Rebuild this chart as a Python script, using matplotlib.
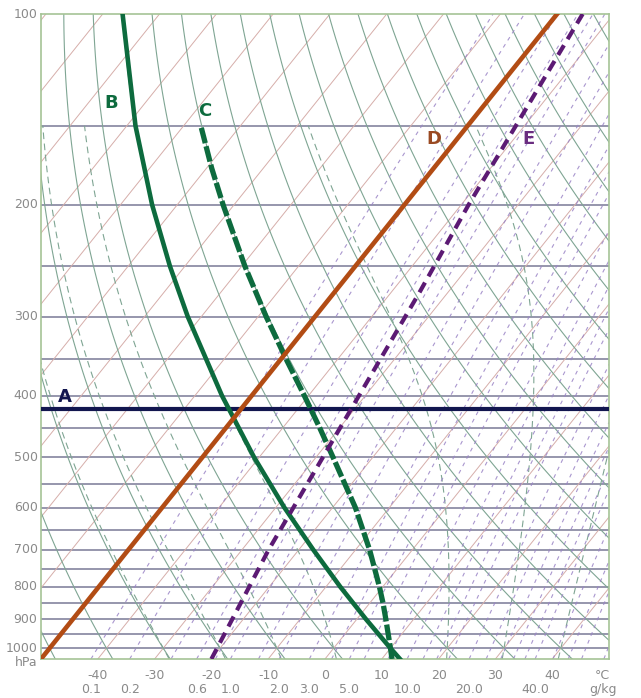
import numpy as np
import matplotlib.pyplot as plt
from matplotlib import transforms

# -----------------------------
# Diagram frame (skew-T / log-p)
# -----------------------------
P_BOTTOM = 1040.0
P_TOP = 100.0
SKEW = 38.8  # degC shift per unit of ln(p)

# background grid values
isobars = [150, 200, 250, 300, 350, 400, 450, 500, 550, 600,
           650, 700, 750, 800, 850, 900, 950, 1000]
isotherms = list(range(-150, 60, 10))
dry_adiabats_c = list(range(-50, 190, 10))          # degC at 1000 hPa
moist_adiabats_c = [-30, -20, -10, 0, 20, 30, 40]   # wet-bulb potential temp
mixing_ratios = [0.1, 0.2, 0.4, 0.6, 0.8, 1.0, 1.5, 2.0, 3.0, 4.0, 5.0, 6.0,
                 8.0, 10.0, 12.0, 14.0, 16.0, 20.0, 24.0, 28.0, 32.0, 36.0,
                 40.0, 48.0, 56.0, 64.0, 80.0]

# axis labels
pressure_labels = [100, 200, 300, 400, 500, 600, 700, 800, 900, 1000]
temp_labels = [-40, -30, -20, -10, 0, 10, 20, 30, 40]
mix_labels = [0.1, 0.2, 0.6, 1.0, 2.0, 3.0, 5.0, 10.0, 20.0, 40.0]

# highlighted lines A..E
a_pressure = 420
b_pressure = [1040, 1000, 900, 800, 700, 600, 500, 400, 300, 250, 200, 150, 100]
b_temp = [13.2, 10.0, 1.6, -7.5, -17.4, -28.5, -40.9, -55.2, -72.4, -82.6, -94.4, -108.5, -126.5]
c_pressure = [1040, 1000, 900, 850, 800, 700, 600, 500, 450, 400, 350, 300, 250, 200, 175, 150]
c_temp = [11.8, 10.0, 5.1, 2.4, -0.6, -7.5, -16.0, -27.0, -33.4, -40.7, -49.1, -58.6, -69.4, -81.9, -89.1, -97.0]
d_pressure = [1040, 100]
d_temp = [-50.0, -50.0]
e_pressure = [1040, 700, 420, 275, 200, 100]
e_temp = [-20.0, -25.3, -30.6, -35.0, -38.7, -45.5]


def skew_x(temp, pres):
    """Temperature -> horizontal position on the skewed axis."""
    return np.asarray(temp) + SKEW * np.log(P_BOTTOM / np.asarray(pres, dtype=float))


def moist_rate(t, p):
    es = 6.112 * np.exp(17.67 * (t - 273.15) / (t - 29.65))
    rs = 0.622 * es / (p - es)
    return (287.0 * t + 2.5e6 * rs) / (1004.0 + 2.5e6 ** 2 * rs * 0.622 / (287.0 * t ** 2))


def pseudo_adiabat(tw, p_end, n=200):
    lnp = np.linspace(np.log(1000.0), np.log(p_end), n)
    t = [tw + 273.15]
    for i in range(n - 1):
        h = lnp[i + 1] - lnp[i]
        k1 = moist_rate(t[-1], np.exp(lnp[i]))
        k2 = moist_rate(t[-1] + h * k1, np.exp(lnp[i + 1]))
        t.append(t[-1] + 0.5 * h * (k1 + k2))
    return np.exp(lnp), np.array(t) - 273.15


def mixing_temp(w, p):
    e = w * p / (622.0 + w)
    a = np.log(e / 6.112)
    return 243.5 * a / (17.67 - a)


fig = plt.figure(figsize=(6.41, 6.98), dpi=100)
ax = fig.add_axes([41 / 641, 1 - 659 / 698, 568 / 641, 645 / 698])
ax.set_yscale('log')
ax.set_ylim(P_BOTTOM, P_TOP)
ax.set_xlim(-50, 50)
ax.set_xticks([])
ax.set_yticks([])
ax.minorticks_off()
for s in ax.spines.values():
    s.set_color('#a6c496')
    s.set_linewidth(1.2)

p_line = np.geomspace(P_BOTTOM, P_TOP, 80)

# isobars
for p in isobars:
    ax.axhline(p, color='#8e8ea6', lw=1.3, zorder=1)

# isotherms
for t in isotherms:
    ax.plot(skew_x([t, t], [P_BOTTOM, P_TOP]), [P_BOTTOM, P_TOP],
            color='#d6aeaa', lw=0.7, zorder=1)

# dry adiabats
for tc in dry_adiabats_c:
    t = (tc + 273.15) * (p_line / 1000.0) ** 0.2857 - 273.15
    ax.plot(skew_x(t, p_line), p_line, color='#7fa593', lw=0.8, zorder=1)

# moist adiabats (dashed)
for tw in moist_adiabats_c:
    p_up, t_up = pseudo_adiabat(tw, 150.0)
    p_dn, t_dn = pseudo_adiabat(tw, P_BOTTOM, 10)
    pp = np.concatenate([p_dn[::-1], p_up[1:]])
    tt = np.concatenate([t_dn[::-1], t_up[1:]])
    ax.plot(skew_x(tt, pp), pp, color='#7fa593', lw=0.8, dashes=(6, 4), zorder=1)

# mixing ratio lines (dashed)
for w in mixing_ratios:
    t = mixing_temp(w, p_line)
    ax.plot(skew_x(t, p_line), p_line, color='#9a84c6', lw=0.8,
            dashes=(3.5, 4), alpha=0.85, zorder=1)

# highlighted lines
ax.axhline(a_pressure, color='#12164f', lw=3.0, zorder=5)
ax.plot(skew_x(b_temp, b_pressure), b_pressure, color='#0d6b3e', lw=3.3, zorder=5)
ax.plot(skew_x(c_temp, c_pressure), c_pressure, color='#0d6b3e', lw=3.8,
        dashes=(3, 0.6), zorder=5)
ax.plot(skew_x(d_temp, d_pressure), d_pressure, color='#b24c14', lw=3.3, zorder=5)
ax.plot(skew_x(e_temp, e_pressure), e_pressure, color='#5c1a74', lw=3.0,
        dashes=(2.7, 1.7), zorder=5)

# letters
letters = [('A', 0.042, 0.406, '#12164f'), ('B', 0.123, 0.862, '#0d6b3e'),
           ('C', 0.289, 0.850, '#0d6b3e'), ('D', 0.692, 0.806, '#9a4a22'),
           ('E', 0.859, 0.806, '#6a2c80')]
for txt, lx, ly, col in letters:
    ax.text(lx, ly, txt, transform=ax.transAxes, color=col, fontsize=13,
            fontweight='bold', ha='center', va='center', zorder=6)

# axis labels
grey = '#8a8a8a'
tf_left = transforms.blended_transform_factory(ax.transAxes, ax.transData)
for p in pressure_labels:
    ax.text(-0.006, p, str(p), transform=tf_left, ha='right', va='center',
            fontsize=9, color=grey)
ax.text(-0.006, -0.006, 'hPa', transform=ax.transAxes, ha='right', va='center',
        fontsize=9, color=grey)

tf_bottom = transforms.blended_transform_factory(ax.transData, ax.transAxes)
for t in temp_labels:
    ax.text(t, -0.025, str(t), transform=tf_bottom, ha='center', va='center',
            fontsize=9, color=grey)
for w in mix_labels:
    ax.text(mixing_temp(w, P_BOTTOM), -0.047, f'{w:.1f}', transform=tf_bottom,
            ha='center', va='center', fontsize=9, color=grey)
ax.text(0.989, -0.025, '°C', transform=ax.transAxes, ha='center', va='center',
        fontsize=9, color=grey)
ax.text(0.989, -0.047, 'g/kg', transform=ax.transAxes, ha='center', va='center',
        fontsize=9, color=grey)

fig.savefig('out.png', dpi=100)
